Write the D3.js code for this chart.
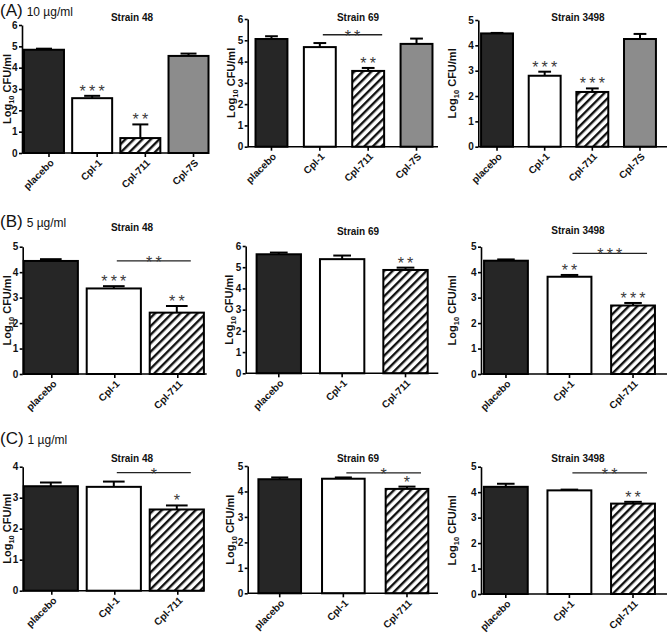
<!DOCTYPE html>
<html><head><meta charset="utf-8">
<script src="https://cdn.jsdelivr.net/npm/d3@7"></script>
<style>body{margin:0;background:#fff}svg{display:block}text{font-family:"Liberation Sans",Arial,sans-serif}</style>
</head><body>
<svg id="c" width="667" height="634"></svg>
<script>
// ---------- DATA ----------
const cats4 = ["placebo", "Cpl-1", "Cpl-711", "Cpl-7S"];
const cats3 = ["placebo", "Cpl-1", "Cpl-711"];
const strains = ["Strain 48", "Strain 69", "Strain 3498"];
const doseLabels = [["(A)", "10 µg/ml"], ["(B)", "5 µg/ml"], ["(C)", "1 µg/ml"]];

const a48 = [4.84, 2.57, 0.70, 4.55];   const a48Err = [0.05, 0.11, 0.64, 0.11];
const a69 = [5.06, 4.68, 3.56, 4.83];   const a69Err = [0.13, 0.19, 0.14, 0.25];
const a3498 = [4.47, 2.80, 2.16, 4.25]; const a3498Err = [0.02, 0.16, 0.14, 0.20];
const b48 = [4.44, 3.36, 2.41];         const b48Err = [0.07, 0.09, 0.26];
const b69 = [5.61, 5.38, 4.87];         const b69Err = [0.08, 0.17, 0.11];
const b3498 = [4.45, 3.82, 2.69];       const b3498Err = [0.05, 0.07, 0.10];
const c48 = [3.37, 3.35, 2.62];         const c48Err = [0.12, 0.17, 0.13];
const c69 = [4.48, 4.50, 4.10];         const c69Err = [0.07, 0.05, 0.09];
const c3498 = [4.21, 4.07, 3.55];       const c3498Err = [0.12, 0.03, 0.07];

const a48Stars = ["", "***", "**", ""];
const a69Stars = ["", "", "**", ""];
const a3498Stars = ["", "***", "***", ""];
const b48Stars = ["", "***", "**"];
const b69Stars = ["", "", "**"];
const b3498Stars = ["", "**", "***"];
const c48Stars = ["", "", "*"];
const c69Stars = ["", "", "*"];
const c3498Stars = ["", "", "**"];

// bracket comparisons Cpl-1 vs Cpl-711: [label, height in log10 units]
const a69Bracket = ["**", 5.26];
const b48Bracket = ["**", 4.44];
const b3498Bracket = ["***", 4.74];
const c48Bracket = ["*", 3.81];
const c69Bracket = ["*", 4.73];
const c3498Bracket = ["**", 4.76];

const yMaxes = [[6, 6, 5], [5, 6, 5], [4, 5, 5]];

// ---------- LAYOUT ----------
const panels = [
  {cats: cats4, v: a48, e: a48Err, s: a48Stars, br: null, row: 0, col: 0,
   ax: [22, 207], yr: [153, 25], band: [19.9, 212.6], pin: 0.17, tickShift: 5, ylab: 11, title: [132, 20.5]},
  {cats: cats4, v: a69, e: a69Err, s: a69Stars, br: a69Bracket, row: 0, col: 1,
   ax: [247.7, 438], yr: [146.7, 19], band: [247.3, 440.7], pin: 0.34, tickShift: 0, ylab: 235, title: [358, 20.5]},
  {cats: cats4, v: a3498, e: a3498Err, s: a3498Stars, br: null, row: 0, col: 2,
   ax: [478.3, 667], yr: [146.7, 20], band: [473.2, 663.8], pin: 0.33, tickShift: 0, ylab: 456, title: [578, 20.5]},
  {cats: cats3, v: b48, e: b48Err, s: b48Stars, br: b48Bracket, row: 1, col: 0,
   ax: [22.7, 206.7], yr: [374, 246.7], band: [19.3, 208.3], pin: 0.14, tickShift: 1, ylab: 11, title: [132, 230.5]},
  {cats: cats3, v: b69, e: b69Err, s: b69Stars, br: null, row: 1, col: 1,
   ax: [245.7, 438.3], yr: [373.3, 246], band: [247.1, 437.2], pin: 0.3, tickShift: 0, ylab: 233, title: [358, 235]},
  {cats: cats3, v: b3498, e: b3498Err, s: b3498Stars, br: b3498Bracket, row: 1, col: 2,
   ax: [481, 667], yr: [374, 246.7], band: [474.2, 664.8], pin: 0.31, tickShift: 0, ylab: 456, title: [578, 234]},
  {cats: cats3, v: c48, e: c48Err, s: c48Stars, br: c48Bracket, row: 2, col: 0,
   ax: [22.7, 204], yr: [590.7, 466.7], band: [19.3, 208.3], pin: 0.14, tickShift: 1, ylab: 11, title: [132, 461.5]},
  {cats: cats3, v: c69, e: c69Err, s: c69Stars, br: c69Bracket, row: 2, col: 1,
   ax: [247.7, 438], yr: [593.3, 466], band: [247.9, 438.8], pin: 0.33, tickShift: 0, ylab: 234, title: [358, 461.5]},
  {cats: cats3, v: c3498, e: c3498Err, s: c3498Stars, br: c3498Bracket, row: 2, col: 2,
   ax: [481, 667], yr: [594, 466.7], band: [474, 664.8], pin: 0.31, tickShift: 0, ylab: 456, title: [578, 461.5]}
];
const doseBase = [15.5, 226.5, 444];

const fills = {"placebo": "#262626", "Cpl-1": "#ffffff", "Cpl-711": "url(#hatch)", "Cpl-7S": "#8c8c8c"};

const svg = d3.select("#c");
const defs = svg.append("defs");
const pat = defs.append("pattern").attr("id", "hatch").attr("patternUnits", "userSpaceOnUse")
  .attr("width", 6).attr("height", 6).attr("patternTransform", "rotate(45)");
pat.append("rect").attr("width", 6).attr("height", 6).attr("fill", "#fff");
pat.append("rect").attr("x", 0).attr("y", 0).attr("width", 2.4).attr("height", 6).attr("fill", "#111");

// dose labels
doseLabels.forEach((d, i) => {
  const t = svg.append("text").attr("x", 0).attr("y", doseBase[i]).attr("fill", "#111");
  t.append("tspan").attr("font-size", 17).text(d[0]);
  t.append("tspan").attr("font-size", 12).attr("dx", 4).text(d[1]);
});

const LS = 3.2;
const starStyle = sel => sel.attr("text-anchor", "middle").attr("font-size", 16)
  .attr("letter-spacing", LS).attr("fill", "#3a3a3a");

panels.forEach(p => {
  const g = svg.append("g");
  const yMax = yMaxes[p.row][p.col];
  const y = d3.scaleLinear().domain([0, yMax]).range(p.yr);
  const x = d3.scaleBand().domain(p.cats).range(p.band).paddingInner(p.pin).paddingOuter(p.pin / 2);
  const bw = x.bandwidth();

  // bars
  g.selectAll("rect.bar").data(p.cats).join("rect").attr("class", "bar")
    .attr("x", d => x(d)).attr("width", bw)
    .attr("y", (d, i) => y(p.v[i])).attr("height", (d, i) => y(0) - y(p.v[i]))
    .attr("fill", d => fills[d]).attr("stroke", "#000").attr("stroke-width", 2);

  // error bars (upward only)
  const cx = d => x(d) + bw / 2;
  g.selectAll("line.err").data(p.cats).join("line").attr("class", "err")
    .attr("x1", cx).attr("x2", cx)
    .attr("y1", (d, i) => y(p.v[i])).attr("y2", (d, i) => y(p.v[i] + p.e[i]))
    .attr("stroke", "#000").attr("stroke-width", 2);
  g.selectAll("line.cap").data(p.cats).join("line").attr("class", "cap")
    .attr("x1", d => cx(d) - bw * 0.2).attr("x2", d => cx(d) + bw * 0.2)
    .attr("y1", (d, i) => y(p.v[i] + p.e[i])).attr("y2", (d, i) => y(p.v[i] + p.e[i]))
    .attr("stroke", "#000").attr("stroke-width", 2);

  // stars
  g.selectAll("text.star").data(p.cats).join("text").attr("class", "star")
    .attr("x", d => cx(d) + LS / 2).attr("y", (d, i) => y(p.v[i] + p.e[i]) + 1)
    .call(starStyle).text((d, i) => p.s[i]);

  // bracket
  if (p.br) {
    const by = y(p.br[1]);
    const xa = cx("Cpl-1") + 3, xb = cx("Cpl-711") + 14;
    g.append("line").attr("x1", xa).attr("x2", xb).attr("y1", by).attr("y2", by)
      .attr("stroke", "#222").attr("stroke-width", 1.3);
    g.append("text").attr("x", (xa + xb) / 2 + LS / 2).attr("y", by + 7).call(starStyle).text(p.br[0]);
  }

  // y axis
  const yAxis = d3.axisLeft(y).ticks(yMax).tickFormat(d3.format("d")).tickSize(3).tickPadding(1.5).tickSizeOuter(0);
  const ya = g.append("g").attr("transform", `translate(${p.ax[0]},0)`).call(yAxis);
  ya.select(".domain").attr("stroke-width", 1.6);
  ya.selectAll(".tick line").attr("stroke-width", 1.6);
  ya.selectAll("text").attr("font-size", 10).attr("font-weight", "bold").attr("fill", "#111");

  // x axis
  g.append("line").attr("x1", p.ax[0]).attr("x2", p.ax[1]).attr("y1", y(0)).attr("y2", y(0))
    .attr("stroke", "#000").attr("stroke-width", 1.6);
  g.selectAll("line.xt").data(p.cats).join("line").attr("class", "xt")
    .attr("x1", d => cx(d) + p.tickShift).attr("x2", d => cx(d) + p.tickShift)
    .attr("y1", y(0)).attr("y2", y(0) + 4).attr("stroke", "#000").attr("stroke-width", 1.6);
  g.selectAll("text.xl").data(p.cats).join("text").attr("class", "xl")
    .attr("transform", d => `translate(${cx(d) + p.tickShift + 3},${y(0) + 8}) rotate(-45)`)
    .attr("text-anchor", "end").attr("dy", "0.35em").attr("font-size", 10).attr("font-weight", "bold")
    .attr("fill", "#111").text(d => d);

  // y label
  const ymid = (p.yr[0] + p.yr[1]) / 2;
  const yl = g.append("text").attr("transform", `translate(${p.ylab},${ymid}) rotate(-90)`)
    .attr("text-anchor", "middle").attr("font-size", 11).attr("font-weight", "bold").attr("fill", "#111");
  yl.append("tspan").text("Log");
  yl.append("tspan").attr("font-size", 7.5).attr("dy", 2.5).text("10");
  yl.append("tspan").attr("dy", -2.5).text(" CFU/ml");

  // title
  g.append("text").attr("x", p.title[0]).attr("y", p.title[1]).attr("text-anchor", "middle")
    .attr("font-size", 10).attr("font-weight", "bold").attr("fill", "#111").text(strains[p.col]);
});
</script>
</body></html>
